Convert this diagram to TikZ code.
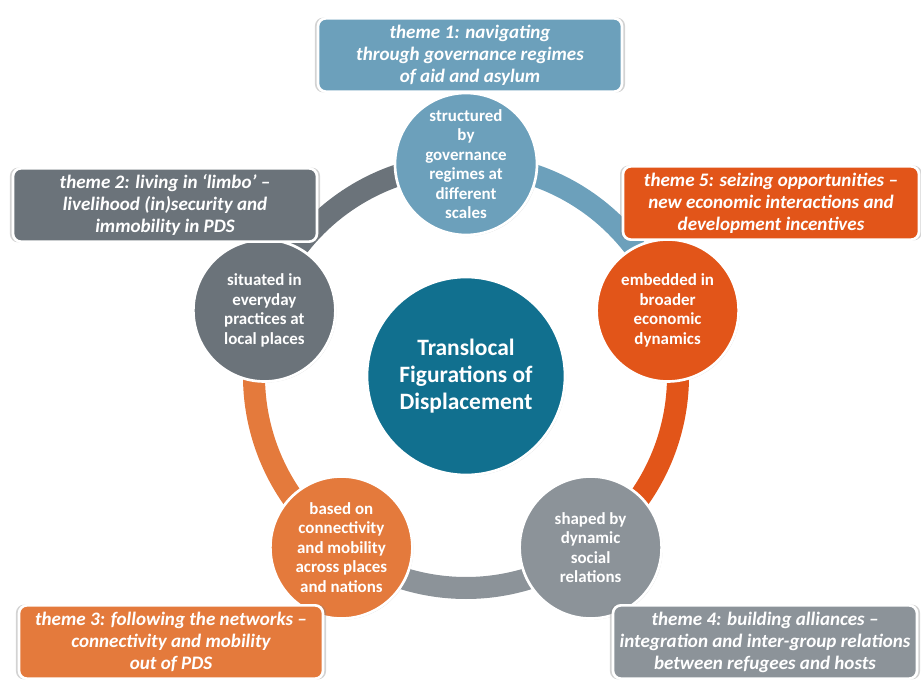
\documentclass[tikz,border=0pt]{standalone}
\usepackage{fontspec}
\setmainfont{Carlito}
\usepackage{tikz}
\usetikzlibrary{backgrounds,calc,shadows}

\definecolor{themeblue}{RGB}{108,160,187}
\definecolor{coreteal}{RGB}{17,112,143}
\definecolor{themered}{RGB}{226,85,25}
\definecolor{themeorange}{RGB}{228,122,60}
\definecolor{themegray}{RGB}{140,147,153}
\definecolor{themedark}{RGB}{107,115,122}

\tikzset{
  facet/.style={circle, draw=white, line width=2pt, minimum size=106.5pt, inner sep=1pt,
    align=center, text=white, font=\bfseries\fontsize{12.7}{14.6}\selectfont,
    drop shadow={opacity=0.3, shadow xshift=0.8pt, shadow yshift=-0.8pt}},
  themebox/.style={rounded corners=6pt, draw=white, line width=2pt, minimum width=228pt,
    minimum height=55pt, inner sep=2pt, align=center, text=white,
    font=\bfseries\itshape\fontsize{14.3}{16.5}\selectfont,
    drop shadow={opacity=0.35, shadow xshift=0pt, shadow yshift=0pt, shadow scale=1.02}},
  ring/.style={line width=16.5pt}
}

\begin{document}
\begin{tikzpicture}[x=0.75pt,y=0.75pt]
\useasboundingbox (0,0) rectangle (921,679);
\coordinate (ctr) at (466,303);

\node[circle, fill=coreteal, draw=white, line width=2pt, minimum size=148.5pt, text=white,
  align=center, font=\bfseries\fontsize{17.6}{20}\selectfont,
  drop shadow={opacity=0.3, shadow xshift=0.8pt, shadow yshift=-0.8pt}] (core) at (ctr)
  {Translocal\\Figurations of\\Displacement};

\node[facet, fill=themeblue] (govern) at ($(ctr)+(90:212)$)
  {structured\\by\\governance\\regimes at\\different\\scales};
\node[facet, fill=themered] (econ) at ($(ctr)+(18:212)$)
  {embedded in\\broader\\economic\\dynamics};
\node[facet, fill=themegray] (social) at ($(ctr)+(-54:212)$)
  {shaped by\\dynamic\\social\\relations};
\node[facet, fill=themeorange] (mobil) at ($(ctr)+(-126:212)$)
  {based on\\connectivity\\and mobility\\across places\\and nations};
\node[facet, fill=themedark] (local) at ($(ctr)+(162:212)$)
  {situated in\\everyday\\practices at\\local places};

\begin{scope}[on background layer]
\draw[ring, themeblue] (govern.center) arc[start angle=90, end angle=18, radius=159pt];
\draw[ring, themered] (econ.center) arc[start angle=18, end angle=-54, radius=159pt];
\draw[ring, themegray] (social.center) arc[start angle=-54, end angle=-126, radius=159pt];
\draw[ring, themeorange] (mobil.center) arc[start angle=-126, end angle=-198, radius=159pt];
\draw[ring, themedark] (local.center) arc[start angle=162, end angle=90, radius=159pt];
\end{scope}

\node[themebox, fill=themeblue] (theme1) at (470,624)
  {theme 1: navigating\\through governance regimes\\of aid and asylum};
\node[themebox, fill=themered, minimum width=222pt] (theme5) at (771,476)
  {theme 5: seizing opportunities --\\new economic interactions and\\development incentives};
\node[themebox, fill=themedark] (theme2) at (165,474)
  {theme 2: living in ‘limbo’ --\\livelihood (in)security and\\immobility in PDS};
\node[themebox, fill=themeorange] (theme3) at (171,37)
  {theme 3: following the networks --\\connectivity and mobility\\out of PDS};
\node[themebox, fill=themegray] (theme4) at (765,37)
  {theme 4: building alliances --\\integration and inter-group relations\\between refugees and hosts};
\end{tikzpicture}
\end{document}
